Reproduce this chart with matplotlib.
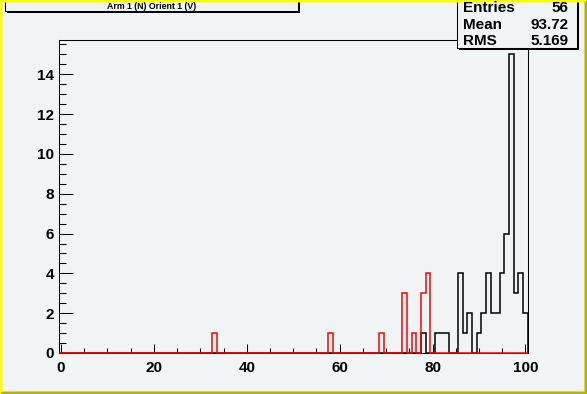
import numpy as np
import matplotlib
matplotlib.use("Agg")
import matplotlib.pyplot as plt
from matplotlib.patches import Rectangle, Polygon

# ---- data ----
bin_edges = np.arange(-0.5, 101.0, 1.0)          # 101 bins centred on 0..100
black_bins = [78, 81, 82, 83, 86, 87, 88, 90, 91, 92, 93, 94, 95, 96, 97, 98, 99, 100]
black_counts = [1, 1, 1, 1, 4, 1, 2, 1, 2, 4, 2, 2, 4, 6, 15, 3, 4, 2]
red_bins = [33, 58, 69, 74, 76, 78, 79]
red_counts = [1, 1, 1, 3, 1, 3, 4]
title_text = "Arm 1 (N) Orient 1 (V)"
stat_names = ["Entries", "Mean", "RMS"]
stat_values = ["56", "93.72", "5.169"]
x_major = [0, 20, 40, 60, 80, 100]
y_major = [0, 2, 4, 6, 8, 10, 12, 14]

nb = len(bin_edges) - 1
black = np.zeros(nb)
red = np.zeros(nb)
black[np.array(black_bins)] = black_counts
red[np.array(red_bins)] = red_counts

W, H = 587, 394
BG = "#f0f4f5"
plt.rcParams["font.family"] = ["Liberation Sans", "DejaVu Sans"]

fig = plt.figure(figsize=(W / 100, H / 100), dpi=100, facecolor=BG)
ax = fig.add_axes([58.7 / W, 1 - 353 / H, (527.7 - 58.7) / W, (353 - 39.5) / H])
ax.set_facecolor(BG)

ax.stairs(black, bin_edges, color="black", lw=1.1, clip_on=False, zorder=3)
ax.stairs(red, bin_edges, color="#ff0000", lw=1.1, clip_on=False, zorder=4)

ax.set_xlim(-0.5, 100.5)
ax.set_ylim(0, 15.75)
ax.set_xticks(x_major)
ax.set_xticks(np.arange(0, 101, 5), minor=True)
ax.set_yticks(y_major)
ax.set_yticks(np.arange(0, 15.75, 0.5), minor=True)
ax.tick_params(axis="x", which="major", direction="in", length=6.8, width=0.75, pad=6,
               labelsize=11, top=False)
ax.tick_params(axis="x", which="minor", direction="in", length=3.4, width=0.75, top=False)
ax.tick_params(axis="y", which="major", direction="in", length=10, width=0.75, pad=3.5,
               labelsize=11, right=False)
ax.tick_params(axis="y", which="minor", direction="in", length=5, width=0.75, right=False)
for lab in ax.get_xticklabels() + ax.get_yticklabels():
    lab.set_fontweight("bold")
for s in ax.spines.values():
    s.set_linewidth(0.75)
    s.set_color("black")

# ---- overlay for boxes / canvas border (pixel coordinates) ----
ov = fig.add_axes([0, 0, 1, 1], zorder=10)
ov.set_xlim(0, W)
ov.set_ylim(H, 0)
ov.axis("off")

def shadow_box(x0, y0, x1, y1, sh=2.5):
    ov.add_patch(Rectangle((x0, y0), x1 - x0, y1 - y0, facecolor=BG, edgecolor="black", lw=0.75))
    ov.add_patch(Rectangle((x1, y0 + sh), sh, y1 - y0, facecolor="black", edgecolor="none"))
    ov.add_patch(Rectangle((x0 + sh, y1), x1 - x0, sh, facecolor="black", edgecolor="none"))

# title box
shadow_box(5, -10, 298, 11, sh=2)
ov.text(151.5, 6.5, title_text, ha="center", va="center", fontsize=6.3, fontweight="bold")

# stats box
shadow_box(457.3, -10, 576.5, 47.8, sh=2)
ys = [7.5, 24.5, 41]
for n, v, y in zip(stat_names, stat_values, ys):
    ov.text(463, y, n, ha="left", va="center", fontsize=11, fontweight="bold")
    ov.text(568.5, y, v, ha="right", va="center", fontsize=11, fontweight="bold")

# canvas bevel border
b = 2.5
light = "#ffff00"
dark = "#b4b400"
ov.add_patch(Polygon([(0, 0), (W, 0), (W - b, b), (b, b), (b, H - b), (0, H)], closed=True,
                     facecolor=light, edgecolor="none"))
ov.add_patch(Polygon([(W, 0), (W, H), (0, H), (b, H - b), (W - b, H - b), (W - b, b)], closed=True,
                     facecolor=dark, edgecolor="none"))

fig.savefig("out.png", dpi=100, facecolor=BG)
